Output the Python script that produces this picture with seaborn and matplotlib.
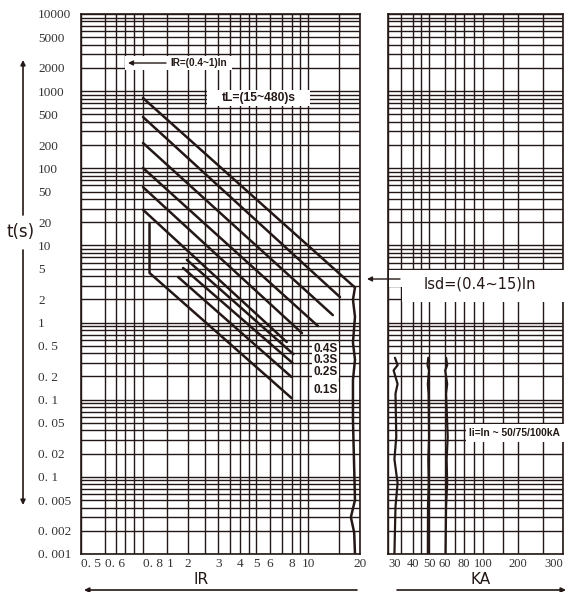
import numpy as np
import pandas as pd
import matplotlib
matplotlib.use("Agg")
import matplotlib.pyplot as plt
import matplotlib.transforms as mtransforms
from matplotlib.patches import Rectangle, FancyArrowPatch
from matplotlib.ticker import NullFormatter
import seaborn as sns

# ------------------------------------------------------------------ data
left_ticks = [0.5, 0.6, 0.8, 1, 2, 3, 4, 5, 6, 8, 10, 20]
left_tick_labels = ["0. 5", "0. 6", "0. 8", "1", "2", "3", "4", "5", "6", "8", "10", "20"]
left_grid_extra = [0.65, 0.7, 0.75, 2.5, 3.5, 4.5, 7, 9, 15]

right_ticks = [30, 40, 50, 60, 80, 100, 200, 300]
right_tick_labels = ["30", "40", "50", "60", "80", "100", "200", "300"]
right_grid_extra = [35, 45, 70, 90, 150, 250]

t_ticks = [10000, 5000, 2000, 1000, 500, 200, 100, 50, 20, 10, 5, 2, 1,
           0.5, 0.2, 0.1, 0.05, 0.02, 0.01, 0.005, 0.002, 0.001]
t_tick_labels = ["10000", "5000", "2000", "1000", "500", "200", "100", "50", "20",
                 "10", "5", "2", "1", "0. 5", "0. 2", "0. 1", "0. 05", "0. 02",
                 "0. 1", "0. 005", "0. 002", "0. 001"]
t_grid_mantissas = [3, 4, 6, 7, 8, 9]

# long-time delay curves (tL)
lt_I_start = [0.8, 0.8, 0.8, 0.8, 0.8, 0.8]
lt_t_start = [815, 462, 213, 101, 57, 29]
lt_I_end = [18.0, 15.3, 13.9, 11.4, 9.2, 7.5]
lt_t_end = [3.07, 2.14, 1.25, 0.90, 0.73, 0.56]

# Isd boundary (wavy, continues the top curve down to the bottom)
isd_I = [18.7, 18.2, 18.7, 18.2, 18.7, 18.2, 18.2, 18.7, 17.7, 18.5, 18.7]
isd_t = [2.86, 1.98, 1.19, 0.55, 0.33, 0.18, 0.055, 0.005, 0.003, 0.0019, 0.001]

# short-time step path
step_I = [0.85, 0.85, 8.0]
step_t = [19.5, 4.4, 0.105]

# short-time curves (0.2S .. 0.4S)
st_I_start = [1.93, 1.70, 1.44]
st_t_start = [6.5, 5.1, 3.9]
st_I_end = [8.2, 8.1, 8.0]
st_t_end = [0.39, 0.30, 0.197]

# instantaneous curves (right panel, kA)
ii_t = [0.35, 0.28, 0.24, 0.16, 0.12, 0.033, 0.017, 0.0083, 0.0041, 0.001]
ii_I_30 = [32.5, 33.5, 32.0, 33.5, 32.7, 33.0, 32.3, 33.5, 32.7, 32.3]
ii_I_50 = [49.5, 49.0, 50.0, 49.2, 49.7, 50.0, 49.5, 49.8, 49.3, 49.2]
ii_I_60 = [61.0, 62.0, 60.2, 62.0, 61.0, 62.5, 61.5, 62.0, 61.0, 60.5]

# ------------------------------------------------------------------ frames
rows = []
for k in range(len(lt_I_start)):
    xs = [lt_I_start[k], lt_I_end[k]]
    ts = [lt_t_start[k], lt_t_end[k]]
    if k == 0:
        xs = xs + isd_I
        ts = ts + isd_t
    for x, t in zip(xs, ts):
        rows.append(("lt%d" % k, x, t))
for x, t in zip(step_I, step_t):
    rows.append(("step", x, t))
for k in range(len(st_I_start)):
    rows.append(("st%d" % k, st_I_start[k], st_t_start[k]))
    rows.append(("st%d" % k, st_I_end[k], st_t_end[k]))
left_df = pd.DataFrame(rows, columns=["curve", "I", "t"])

rrows = []
for name, xs in (("30", ii_I_30), ("50", ii_I_50), ("60", ii_I_60)):
    for x, t in zip(xs, ii_t):
        rrows.append((name, x, t))
right_df = pd.DataFrame(rrows, columns=["curve", "I", "t"])

# ------------------------------------------------------------------ figure
sns.set_theme(style="white")
plt.rcParams["font.family"] = ["DejaVu Sans"]
INK = "#231815"
W, H = 568, 592
fig = plt.figure(figsize=(W / 100, H / 100), dpi=100)
PX = mtransforms.Affine2D().scale(1 / W, -1 / H).translate(0, 1) + fig.transFigure


def px_axes(x0, y0, x1, y1):
    return fig.add_axes([x0 / W, 1 - y1 / H, (x1 - x0) / W, (y1 - y0) / H])


axL = px_axes(81, 14, 360, 554)
axR = px_axes(388, 14, 563, 554)


# non-uniform log scales of the current axes (as printed on the chart)
def piecewise_log(knot_vals, knot_pos):
    kv = np.log10(knot_vals)
    kp = np.asarray(knot_pos, dtype=float)
    sl = (kp[1] - kp[0]) / (kv[1] - kv[0])
    sh = (kp[-1] - kp[-2]) / (kv[-1] - kv[-2])
    kv = np.concatenate([[kv[0] - 5], kv, [kv[-1] + 5]])
    kp = np.concatenate([[kp[0] - 5 * sl], kp, [kp[-1] + 5 * sh]])

    def fwd(x):
        x = np.clip(np.asarray(x, dtype=float), 1e-6, None)
        return np.interp(np.log10(x), kv, kp)

    def inv(p):
        return 10 ** np.interp(np.asarray(p, dtype=float), kp, kv)

    return fwd, inv


axL.set_xscale("function",
               functions=piecewise_log([0.5, 0.8, 1.0, 2.0, 20.0], [0, 62, 86, 107, 279]))
axR.set_xscale("function",
               functions=piecewise_log([30, 40, 50, 60, 80, 100, 200, 300],
                                       [0, 25, 41, 57, 76, 95, 130, 175]))
axL.set_yscale("log")
axR.set_yscale("log")

sns.lineplot(data=left_df, x="I", y="t", units="curve", estimator=None, sort=False,
             color=INK, lw=1.8, ax=axL, legend=False)
sns.lineplot(data=right_df, x="I", y="t", units="curve", estimator=None, sort=False,
             color=INK, lw=1.6, ax=axR, legend=False)

t_minor = [m * 10.0 ** k for k in range(-3, 4) for m in t_grid_mantissas]

TICKFONT = dict(fontfamily="Liberation Serif", fontsize=9.5, color="#333333")

for ax in (axL, axR):
    ax.set_ylim(0.001, 10000)
    ax.set_yticks(t_ticks)
    ax.set_yticks(t_minor, minor=True)
    ax.yaxis.set_minor_formatter(NullFormatter())
    ax.xaxis.set_minor_formatter(NullFormatter())
    ax.grid(True, which="both", color=INK, lw=1.0)
    ax.tick_params(which="both", length=0)
    ax.set_xlabel("")
    ax.set_ylabel("")
    for s in ax.spines.values():
        s.set_color(INK)
        s.set_linewidth(1.2)

axL.set_xlim(0.5, 20)
axL.set_xticks(left_ticks)
axL.set_xticks(left_grid_extra, minor=True)
axL.set_xticklabels(left_tick_labels, **TICKFONT)
axL.set_yticklabels(t_tick_labels, **TICKFONT)
for lab in axL.get_yticklabels():
    lab.set_horizontalalignment("left")
for lab in axL.get_xticklabels()[:4]:
    lab.set_horizontalalignment("left")
axL.tick_params(axis="y", pad=31)
axL.tick_params(axis="x", pad=3)

axR.set_xlim(30, 300)
axR.set_xticks(right_ticks)
axR.set_xticks(right_grid_extra, minor=True)
axR.set_xticklabels(right_tick_labels, fontfamily="Liberation Serif", fontsize=9,
                    color="#333333")
axR.tick_params(axis="y", labelleft=False)
axR.tick_params(axis="x", pad=3)
axR.get_xticklabels()[0].set_horizontalalignment("left")
axR.get_xticklabels()[-1].set_horizontalalignment("right")


# ------------------------------------------------------------------ annotations
def white_box(x0, y0, x1, y1):
    fig.add_artist(Rectangle((x0, y0), x1 - x0, y1 - y0, transform=PX,
                             facecolor="white", edgecolor="none", zorder=5))


def arrow(p0, p1, lw=1.0, ms=8):
    fig.add_artist(FancyArrowPatch(p0, p1, transform=PX, arrowstyle="-|>",
                                   mutation_scale=ms, lw=lw, color=INK, zorder=7,
                                   shrinkA=0, shrinkB=0))


def label(x, y, s, size, weight="bold", ha="center", family="Liberation Sans"):
    fig.text(x, y, s, transform=PX, ha=ha, va="center", fontsize=size,
             fontweight=weight, color=INK, fontfamily=family, zorder=8)


# IR
white_box(125, 56, 232, 70)
arrow((166, 63), (128, 63), ms=7)
label(199, 63, "IR=(0.4~1)In", 7.2)
# tL
white_box(207, 90, 310, 106)
label(259, 98, "tL=(15~480)s", 8.7)
# short-time labels
white_box(312, 343, 339, 378)
white_box(312, 382, 339, 398)
label(326, 349, "0.4S", 8.5)
label(326, 360, "0.3S", 8.5)
label(326, 372, "0.2S", 8.5)
label(326, 390, "0.1S", 8.5)
# Isd
white_box(389, 270, 564, 287)
white_box(402, 287, 564, 302)
arrow((400, 279), (367, 279), ms=7)
label(480, 284, "Isd=(0.4~15)In", 10.5, weight="normal", family="DejaVu Sans")
# Ii
white_box(466, 424, 568, 442)
label(469, 433, "Ii=In ~ 50/75/100kA", 7.4, ha="left")

# axis titles and arrows
label(21, 232, "t(s)", 12, weight="normal", family="DejaVu Sans")
arrow((23, 215), (23, 60), lw=1.2, ms=7)
arrow((23, 250), (23, 505), lw=1.2, ms=7)
label(201, 580, "IR", 11, weight="normal", family="DejaVu Sans")
label(481, 580, "KA", 11, weight="normal", family="DejaVu Sans")
arrow((357, 590), (84, 590), lw=1.2, ms=7)
arrow((397, 590), (566, 590), lw=1.2, ms=7)

fig.savefig("out.png", dpi=100)
